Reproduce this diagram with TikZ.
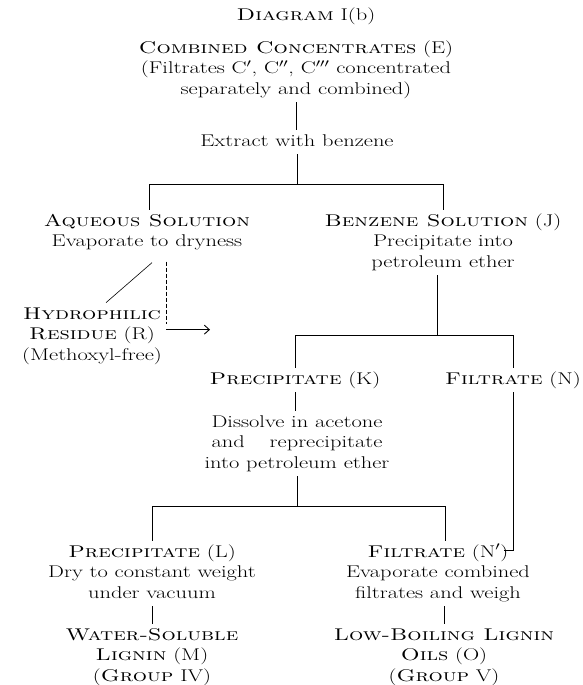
\documentclass[tikz,border=0pt]{standalone}
\usepackage{graphicx}
\usetikzlibrary{arrows.meta,calc}
\newcommand{\ww}[1]{\scalebox{1.32}[1]{\strut#1}}
\newlength\dw
\tikzset{
  txt/.style={font=\fontsize{17}{20.5}\selectfont, align=center, inner sep=0pt, outer sep=2pt, anchor=north},
  ln/.style={line width=0.6pt},
}
\begin{document}
\settowidth{\dw}{\fontsize{17}{20.5}\selectfont Dissolve in acetone}
\begin{tikzpicture}[x=1pt,y=-1pt]
\useasboundingbox[fill=white] (0,0) rectangle (582,685);
% text blocks
\node[txt] (T) at (306,4.65) {\ww{\textsc{Diagram} I(b)}};
\node[txt] (E) at (296,36.65) {\ww{\textsc{Combined Concentrates} (E)}\\
  \ww{(Filtrates C$'$, C$''$, C$'''$ concentrated}\\
  \ww{separately and combined)}};
\node[txt] (X) at (297,129.65) {\ww{Extract with benzene}};
\node[txt] (A) at (147,209.65) {\ww{\textsc{Aqueous Solution}}\\ \ww{Evaporate to dryness}};
\node[txt] (B) at (443,209.65) {\ww{\textsc{Benzene Solution} (J)}\\ \ww{Precipitate into}\\ \ww{petroleum ether}};
\node[txt] (R) at (92,302.65) {\ww{\textsc{Hydrophilic}}\\ \ww{\textsc{Residue} (R)}\\ \ww{(Methoxyl-free)}};
\node[txt] (K) at (295,367.65) {\ww{\textsc{Precipitate} (K)}};
\node[txt] (N) at (513,367.65) {\ww{\textsc{Filtrate} (N)}};
\node[txt] (D) at (297,410.65) {\ww{Dissolve in acetone}\\
  \ww{\makebox[\dw][s]{and\hfill reprecipitate}}\\
  \ww{into petroleum ether}};
\node[txt] (L) at (152,540.65) {\ww{\textsc{Precipitate} (L)}\\ \ww{Dry to constant weight}\\ \ww{under vacuum}};
\node[txt] (N2) at (438,540.65) {\ww{\textsc{Filtrate} (N$'$)}\\ \ww{Evaporate combined}\\ \ww{filtrates and weigh}};
\node[txt] (M) at (152,623.65) {\ww{\textsc{Water-Soluble}}\\ \ww{\textsc{Lignin} (M)}\\ \ww{(\textsc{Group} IV)}};
\node[txt] (O) at (444,623.65) {\ww{\textsc{Low-Boiling Lignin}}\\ \ww{\textsc{Oils} (O)}\\ \ww{(\textsc{Group} V)}};
% junction levels
\coordinate (bar1) at (0,184);
\coordinate (bar2) at (0,335);
\coordinate (b3r) at (445,506);
\coordinate (hook) at (504,550);
% connectors
\draw[ln] (E.south) -- (E.south |- X.north);
\draw[ln] (X.south) -- (X.south |- b3r |- 0,184);
\draw[ln] ([xshift=2pt]A.north) |- (B.north |- bar1) -- (B.north);
\draw[ln] ([xshift=-6pt]B.south) -- ([xshift=-6pt]B.south |- bar2);
\draw[ln] (K.north) |- (N.north |- bar2) -- (N.north);
\draw[ln] (K.south) -- (K.south |- D.north);
\draw[ln] (D.south) -- (D.south |- b3r);
\draw[ln] (L.north) |- (b3r) -- (b3r |- N2.north);
\draw[line width=0.8pt] (N.south) -- (N.south |- hook) -- (hook);
\draw[ln] (L.south) -- (L.south |- M.north);
\draw[ln] ([xshift=6pt]N2.south) -- ([xshift=6pt]N2.south |- O.north);
\draw[ln] ($(A.south)+(5,8)$) -- ([xshift=14pt]R.north);
\draw[ln,dashed,dash pattern=on 4pt off 2pt] ($(A.south)+(19,7)$) -- ++(0,62) coordinate (dd);
\draw[line width=0.9pt,-{Straight Barb[length=5pt,width=9pt]}] ([yshift=-6pt]dd) -- ++(44,0);
\end{tikzpicture}
\end{document}
